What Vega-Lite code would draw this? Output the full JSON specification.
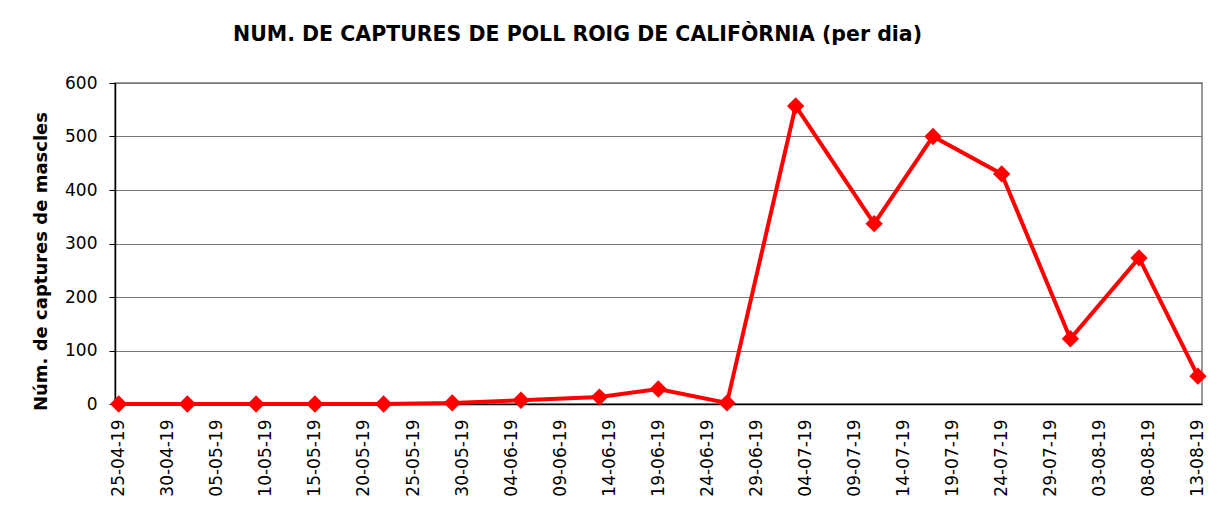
{
  "$schema": "https://vega.github.io/schema/vega-lite/v6.json",
  "autosize": {"type": "none"},
  "width": 1087,
  "height": 321,
  "padding": {"left": 115, "top": 83, "right": 19, "bottom": 102},
  "background": "white",
  "config": {
    "font": "DejaVu Sans",
    "view": {"stroke": "#999999", "strokeWidth": 2}
  },
  "title": {
    "text": "NUM. DE CAPTURES DE POLL ROIG DE CALIFÒRNIA (per dia)",
    "font": "DejaVu Sans",
    "fontSize": 20.5,
    "fontWeight": "bold",
    "color": "#000000",
    "anchor": "middle",
    "frame": "group",
    "dx": -81,
    "baseline": "alphabetic",
    "offset": 13
  },
  "data": {
    "values": [
      {"date": "2019-04-25", "captures": 0},
      {"date": "2019-05-02", "captures": 0},
      {"date": "2019-05-09", "captures": 0},
      {"date": "2019-05-15", "captures": 0},
      {"date": "2019-05-22", "captures": 0},
      {"date": "2019-05-29", "captures": 2},
      {"date": "2019-06-05", "captures": 7},
      {"date": "2019-06-13", "captures": 13},
      {"date": "2019-06-19", "captures": 28},
      {"date": "2019-06-26", "captures": 2},
      {"date": "2019-07-03", "captures": 557},
      {"date": "2019-07-11", "captures": 337},
      {"date": "2019-07-17", "captures": 500},
      {"date": "2019-07-24", "captures": 430},
      {"date": "2019-07-31", "captures": 122},
      {"date": "2019-08-07", "captures": 273},
      {"date": "2019-08-13", "captures": 52}
    ]
  },
  "encoding": {
    "x": {
      "field": "date",
      "type": "temporal",
      "scale": {
        "type": "utc",
        "domain": [
          {"year": 2019, "month": 4, "date": 24, "hours": 15, "utc": true},
          {"year": 2019, "month": 8, "date": 13, "hours": 10, "utc": true}
        ]
      },
      "axis": {
        "title": null,
        "values": [
          {"year": 2019, "month": 4, "date": 25, "utc": true},
          {"year": 2019, "month": 4, "date": 30, "utc": true},
          {"year": 2019, "month": 5, "date": 5, "utc": true},
          {"year": 2019, "month": 5, "date": 10, "utc": true},
          {"year": 2019, "month": 5, "date": 15, "utc": true},
          {"year": 2019, "month": 5, "date": 20, "utc": true},
          {"year": 2019, "month": 5, "date": 25, "utc": true},
          {"year": 2019, "month": 5, "date": 30, "utc": true},
          {"year": 2019, "month": 6, "date": 4, "utc": true},
          {"year": 2019, "month": 6, "date": 9, "utc": true},
          {"year": 2019, "month": 6, "date": 14, "utc": true},
          {"year": 2019, "month": 6, "date": 19, "utc": true},
          {"year": 2019, "month": 6, "date": 24, "utc": true},
          {"year": 2019, "month": 6, "date": 29, "utc": true},
          {"year": 2019, "month": 7, "date": 4, "utc": true},
          {"year": 2019, "month": 7, "date": 9, "utc": true},
          {"year": 2019, "month": 7, "date": 14, "utc": true},
          {"year": 2019, "month": 7, "date": 19, "utc": true},
          {"year": 2019, "month": 7, "date": 24, "utc": true},
          {"year": 2019, "month": 7, "date": 29, "utc": true},
          {"year": 2019, "month": 8, "date": 3, "utc": true},
          {"year": 2019, "month": 8, "date": 8, "utc": true},
          {"year": 2019, "month": 8, "date": 13, "utc": true}
        ],
        "format": "%d-%m-%y",
        "labelAngle": -90,
        "labelAlign": "right",
        "labelBaseline": "middle",
        "labelFontSize": 17,
        "labelColor": "#000000",
        "labelPadding": 15,
        "labelOverlap": false,
        "labelFlush": false,
        "ticks": false,
        "grid": false,
        "domainColor": "#000000",
        "domainWidth": 1.5
      }
    },
    "y": {
      "field": "captures",
      "type": "quantitative",
      "scale": {"domain": [0, 600], "nice": false},
      "axis": {
        "title": "Núm. de captures de mascles",
        "titleFontSize": 18,
        "titleFontWeight": "bold",
        "titleColor": "#000000",
        "titleX": -74,
        "titleY": 178,
        "titleAngle": -90,
        "titleAlign": "center",
        "titleBaseline": "middle",
        "values": [0, 100, 200, 300, 400, 500, 600],
        "labelFontSize": 17,
        "labelColor": "#000000",
        "labelPadding": 12,
        "tickSize": 6,
        "tickColor": "#000000",
        "domainColor": "#000000",
        "domainWidth": 1.5,
        "gridColor": "#777777",
        "gridWidth": 1,
        "gridOpacity": 1
      }
    }
  },
  "layer": [
    {
      "mark": {"type": "line", "color": "#ff0000", "strokeWidth": 4}
    },
    {
      "mark": {"type": "point", "shape": "diamond", "filled": true, "color": "#ff0000", "opacity": 1, "size": 300}
    }
  ]
}
